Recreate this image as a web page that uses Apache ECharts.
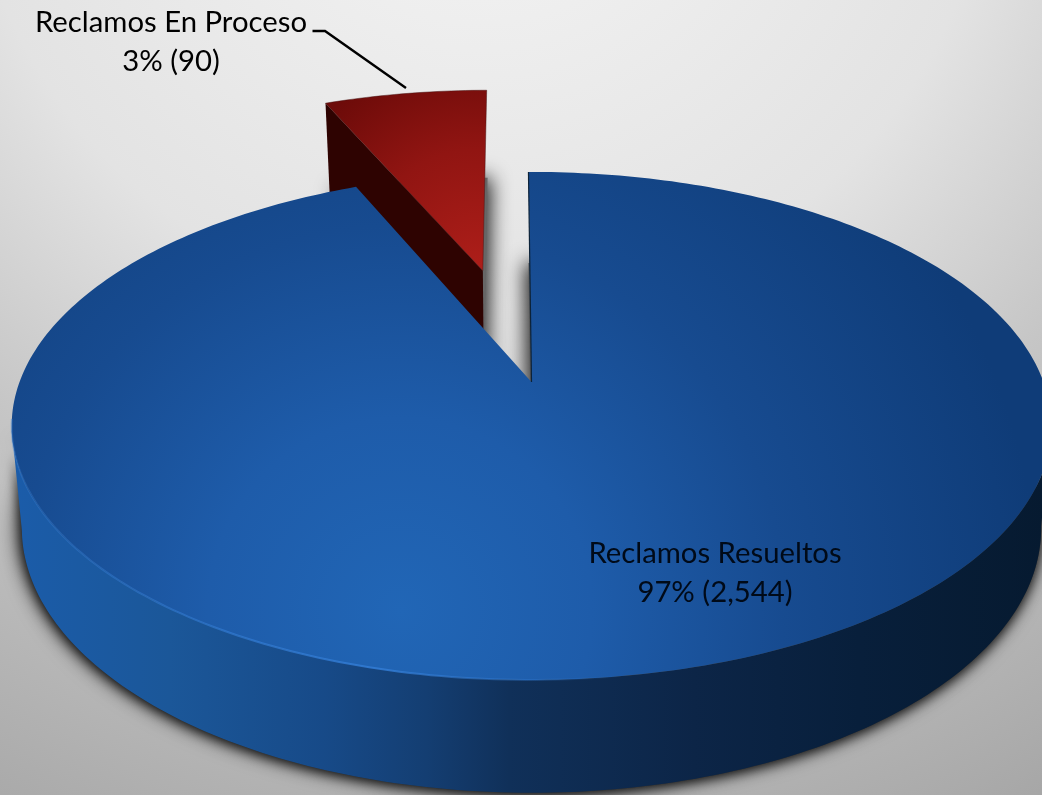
<!DOCTYPE html>
<html>
<head>
<meta charset="utf-8">
<style>
  html, body { margin: 0; padding: 0; background: #ddd; }
  #chart { width: 1042px; height: 795px; }
</style>
<script src="https://cdn.jsdelivr.net/npm/echarts@6/dist/echarts.min.js"></script>
</head>
<body>
<div id="chart"></div>
<script>
const categories = ['Reclamos En Proceso', 'Reclamos Resueltos'];
const counts = ['90', '2,544'];
const percents = [3, 97];
// sweep of each wedge as measured on the picture (deg); the red wedge is drawn wider than its 3% label
const sweepDeg = [23, 337];
const explode = [0.5, 0];

// perspective of the tilted disc: top face and bottom face
const START_DEG = -0.4;
const CX = 531.5;
const K = -0.173;
const topPlane = { a: 512, b: 246.4, y0: 382 };
const botPlane = { a: 502, b: 257, y0: 482 };

const chart = echarts.init(document.getElementById('chart'));
const G = echarts.graphic;

function project(plane, X, Y) {
    const d = 1 + K * Y;
    return [CX + plane.a * X / d, plane.y0 + plane.b * Y / d];
}

// angle is clockwise from 12 o'clock
function onRim(plane, deg, off) {
    const r = deg * Math.PI / 180;
    return project(plane, Math.sin(r) + off[0], -Math.cos(r) + off[1]);
}

function arc(plane, from, to, off) {
    const pts = [];
    const n = Math.max(2, Math.ceil(Math.abs(to - from)));
    for (let i = 0; i <= n; i++) pts.push(onRim(plane, from + (to - from) * i / n, off));
    return pts;
}

function wedge(plane, from, to, off) {
    return [project(plane, off[0], off[1])].concat(arc(plane, from, to, off));
}

function sliceLabel(i) {
    return categories[i] + '\n' + percents[i] + '% (' + counts[i] + ')';
}

function labelEl(i, x, y, color) {
    return {
        type: 'text',
        style: {
            text: sliceLabel(i), x: x, y: y, fill: color,
            font: '29.3px Lato, "Open Sans", sans-serif',
            lineHeight: 39, align: 'center', verticalAlign: 'middle'
        }
    };
}

function renderRed(from, to, off) {
    const leftTop = onRim(topPlane, from, off);
    const leftBot = onRim(botPlane, from, off);
    const apexTop = project(topPlane, off[0], off[1]);
    const apexBot = project(botPlane, off[0], off[1]);
    return [
        { type: 'polygon', shape: { points: wedge(botPlane, from, to, off) },
          style: { fill: '#666', shadowBlur: 20, shadowOffsetX: 3, shadowColor: 'rgba(0,0,0,0.9)' } },
        { type: 'polygon', shape: { points: [leftTop, apexTop, apexBot, leftBot] },
          style: { fill: '#2e0301' } },
        { type: 'polygon', shape: { points: wedge(topPlane, from, to, off) },
          style: {
              fill: new G.RadialGradient(478, 268, 215, [
                  { offset: 0, color: '#ad1e19' },
                  { offset: 0.55, color: '#911512' },
                  { offset: 1, color: '#6d0b09' }
              ], true),
              stroke: 'rgba(70,20,20,0.6)', lineWidth: 0.8
          } },
        { type: 'polyline', shape: { points: [[312.5, 31], [325, 31], [406, 88]] },
          style: { stroke: '#000', lineWidth: 2.4, fill: null } },
        labelEl(0, 171, 42, '#000')
    ];
}

function renderBlue(from, to, off) {
    // front of the disc, between the two tangent points
    const wallTop = arc(topPlane, 100 + START_DEG, 260 + START_DEG, off);
    const wallBot = arc(botPlane, 260 + START_DEG, 100 + START_DEG, off);
    const apexTop = project(topPlane, off[0], off[1]);
    const wallFill = new G.LinearGradient(15, 0, 1045, 0, [
        { offset: 0, color: '#1b5ca9' },
        { offset: 0.15, color: '#1b5799' },
        { offset: 0.3, color: '#174a88' },
        { offset: 0.4, color: '#143e72' },
        { offset: 0.48, color: '#103059' },
        { offset: 0.66, color: '#0c2547' },
        { offset: 0.82, color: '#081f3b' },
        { offset: 1, color: '#061a30' }
    ], true);
    return [
        { type: 'polygon', shape: { points: wedge(botPlane, from, to, off) },
          style: { fill: '#555', shadowBlur: 20, shadowOffsetX: -3, shadowColor: 'rgba(0,0,0,0.9)' } },
        { type: 'polygon', shape: { points: wallTop.concat(wallBot) },
          style: { fill: wallFill, shadowBlur: 12, shadowOffsetY: 2, shadowColor: 'rgba(0,0,0,0.75)' } },
        { type: 'polygon', shape: { points: wedge(topPlane, from, to, off) },
          style: {
              fill: new G.RadialGradient(400, 610, 640, [
                  { offset: 0, color: '#2166b6' },
                  { offset: 0.3, color: '#1e5caa' },
                  { offset: 0.6, color: '#174b90' },
                  { offset: 1, color: '#0f3c78' }
              ], true)
          } },
        { type: 'polyline', shape: { points: arc(topPlane, 262 + START_DEG, 170 + START_DEG, off) },
          style: {
              fill: null, lineWidth: 2,
              stroke: new G.LinearGradient(15, 0, 620, 0, [
                  { offset: 0, color: 'rgba(50,125,215,0.35)' },
                  { offset: 0.6, color: 'rgba(50,125,215,0.85)' },
                  { offset: 1, color: 'rgba(50,125,215,0)' }
              ], true)
          } },
        { type: 'polyline', shape: { points: [onRim(topPlane, from, off), apexTop] },
          style: { stroke: '#0c2238', lineWidth: 1.2, fill: null } },
        labelEl(1, 715, 573, '#000a18')
    ];
}

chart.setOption({
    animation: false,
    backgroundColor: new G.RadialGradient(480, -200, 1150, [
        { offset: 0, color: '#f4f4f4' },
        { offset: 0.17, color: '#efefef' },
        { offset: 0.45, color: '#e3e3e3' },
        { offset: 0.67, color: '#c6c6c6' },
        { offset: 1, color: '#a6a6a6' }
    ], true),
    series: [{
        type: 'custom',
        coordinateSystem: 'none',
        silent: true,
        data: categories.map((c, i) => ({ name: c, value: [i, sweepDeg[i], explode[i]] })),
        renderItem: function (params, api) {
            const i = api.value(0);
            // red wedge ends at 12 o'clock, blue one runs on clockwise from there
            const from = i === 0 ? START_DEG - api.value(1) : START_DEG;
            const end = i === 0 ? START_DEG : START_DEG + api.value(1);
            const mid = (from + end) / 2 * Math.PI / 180;
            const e = api.value(2);
            const off = [Math.sin(mid) * e, -Math.cos(mid) * e];
            return { type: 'group', children: i === 0 ? renderRed(from, end, off) : renderBlue(from, end, off) };
        }
    }]
});

window.addEventListener('resize', () => chart.resize());
</script>
</body>
</html>
